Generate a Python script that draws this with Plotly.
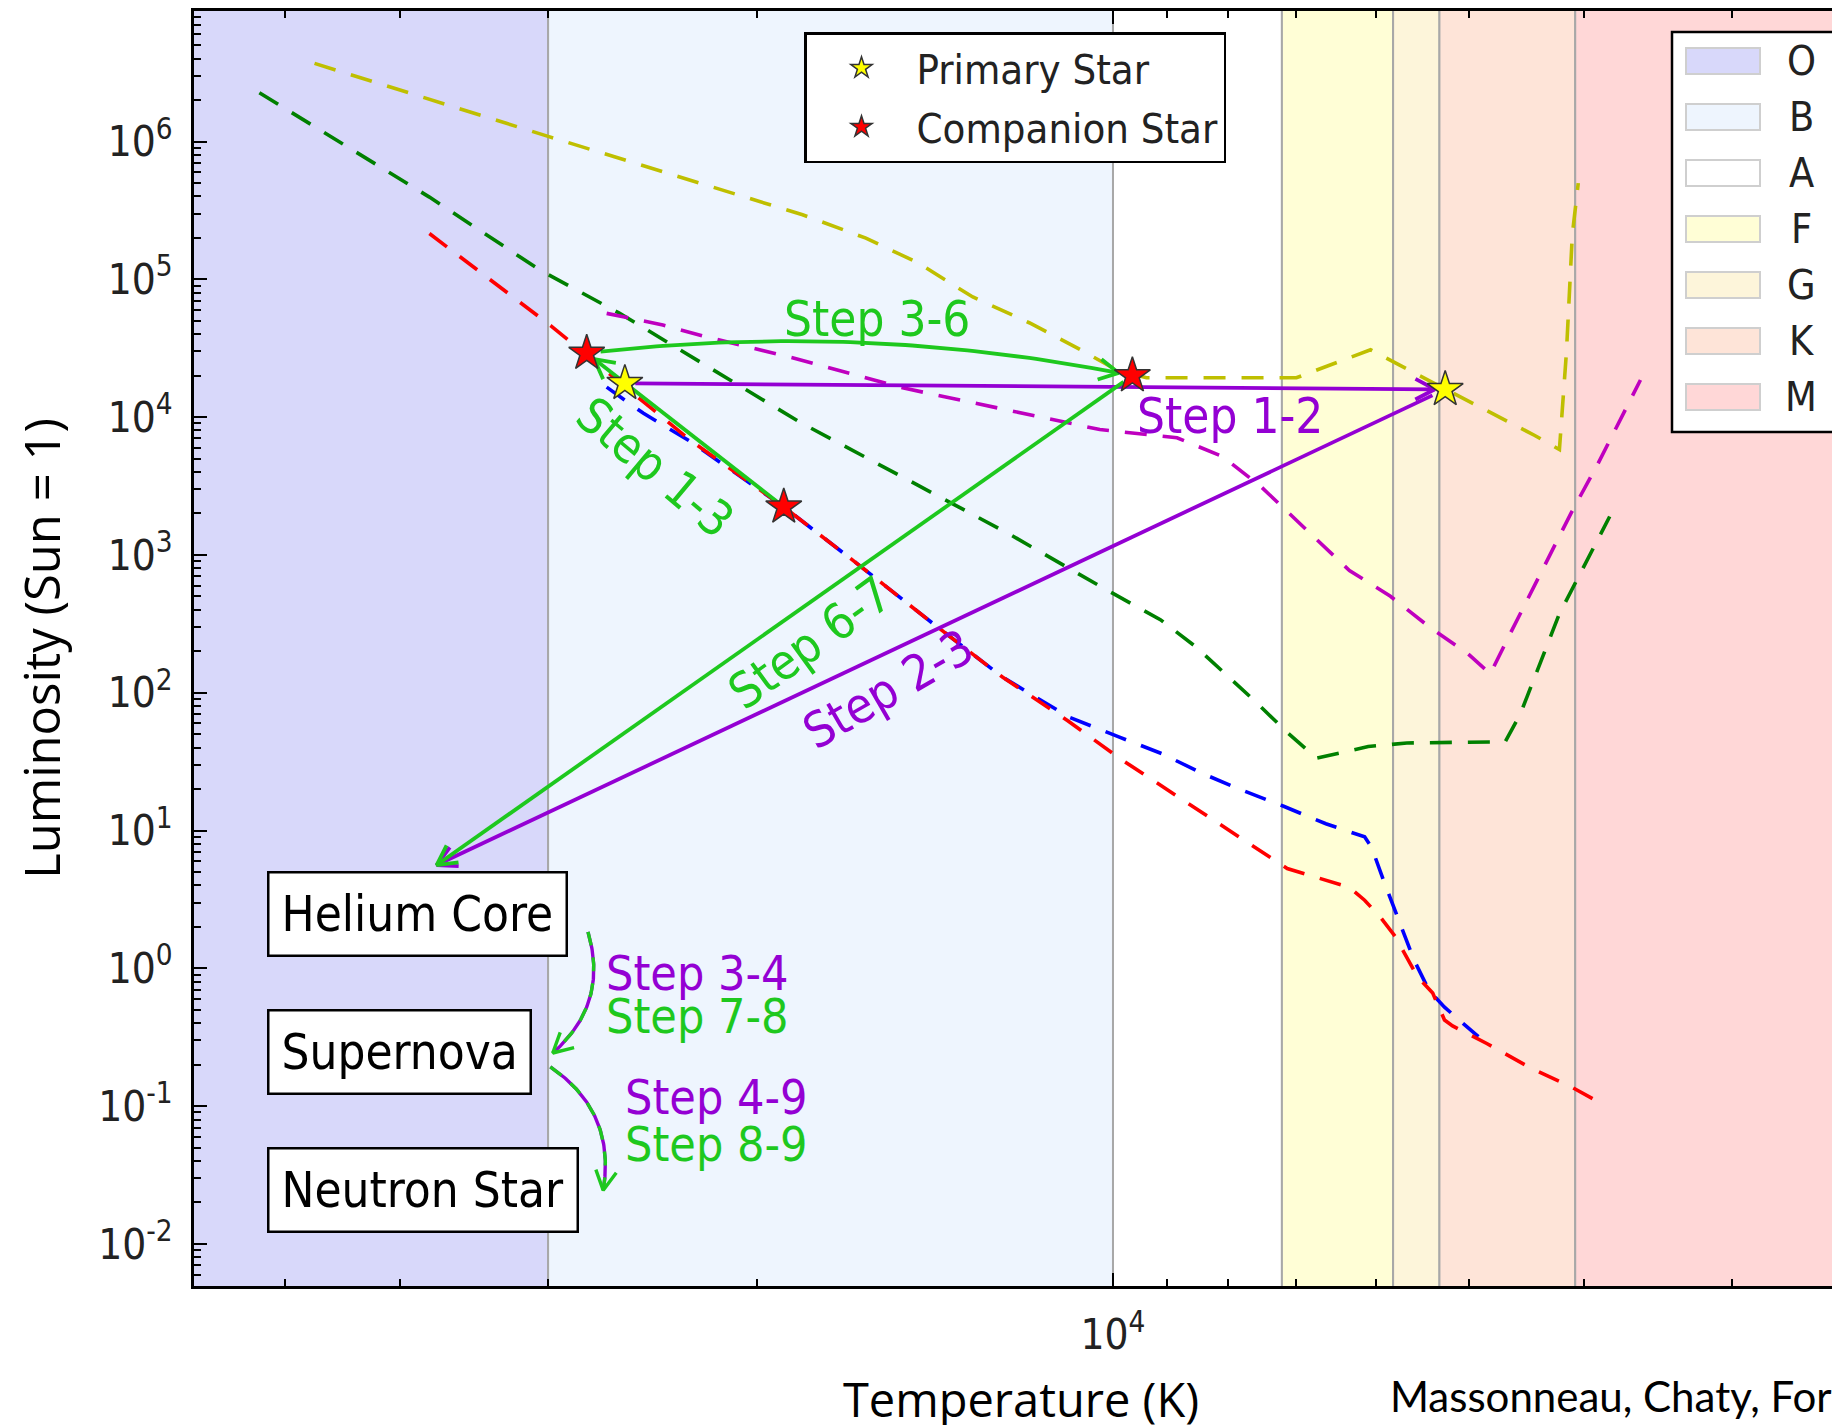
import math
import numpy as np
import plotly.graph_objects as go

# spectral classes: temperature edges in K (hot -> cool), fill colours
spec_classes = ["O", "B", "A", "F", "G", "K", "M"]
spec_edges = [80000, 30000, 10000, 7200, 5800, 5300, 4070, 1500]
spec_colors = ["#d8d8fa", "#eef5fe", "#ffffff", "#fffed6", "#fdf5da", "#fee4d8", "#ffd7d7"]

# evolutionary tracks (temperature K, luminosity Lsun)
yellow_T = [47250, 30000, 18290, 16170, 14620, 13135, 11770, 10650, 9940, 9370, 7000, 6060, 5250, 4403, 4197, 4140, 4093, 4046]
yellow_L = [3.69e6, 1.09e6, 2.94e5, 1.99e5, 1.32e5, 7.44e4, 4.84e4, 3.08e4, 2.21e4, 1.93e4, 1.93e4, 3.08e4, 1.61e4, 7360, 5820, 2.96e4, 2.11e5, 4.99e5]

green_T = [52600, 37790, 30490, 26100, 18370, 14690, 12240, 10190, 9120, 8516, 7613, 7110, 6731, 6087, 5647, 4663, 4527, 4198, 3806]
green_L = [2.26e6, 3.95e5, 1.17e5, 5.66e4, 9150, 3300, 1420, 575, 339, 216, 89.3, 50.6, 33.5, 40.7, 43.2, 44.1, 70.5, 373, 1900]

magenta_T = [26770, 24000, 22050, 18620, 15100, 12350, 10260, 8830, 8078, 7494, 6855, 6314, 5830, 5407, 5015, 4802, 4619, 4382, 4102, 3893, 3585]
magenta_L = [5.66e4, 4.66e4, 3.82e4, 2.69e4, 1.64e4, 1.13e4, 8120, 7080, 5170, 3110, 1500, 771, 501, 301, 192, 137, 268, 661, 2020, 4610, 1.86e4]

red_T = [37790, 29800, 22760, 18970, 16460, 14200, 12400, 10920, 9876, 8573, 7390, 7126, 6314, 6130, 5950, 5775, 5532, 5370, 5248, 5166, 4834, 4453, 4102, 3839]
red_L = [2.15e5, 4.56e4, 6810, 2230, 869, 319, 130, 62.7, 33.5, 15.0, 6.57, 5.30, 3.87, 3.12, 2.37, 1.70, 0.871, 0.662, 0.422, 0.382, 0.285, 0.192, 0.138, 0.1007]

blue_T = [26770, 24940, 22760, 18970, 16460, 14200, 12400, 10890, 9876, 9098, 8401, 7790, 7176, 6610, 6130, 6047, 5909, 5737, 5569, 5407, 5248, 5060, 4913]
blue_L = [1.65e4, 1.07e4, 6680, 2230, 869, 319, 130, 66.5, 47.6, 36.2, 25.9, 19.7, 15.0, 11.2, 9.0, 7.55, 4.35, 2.23, 1.15, 0.689, 0.523, 0.397, 0.32]

# stars: positions at successive steps
primary_T = [25840, 5241]
primary_L = [1.76e4, 1.59e4]
companion_T = [27830, 9630, 18970]
companion_L = [2.91e4, 2.00e4, 2.23e3]

# point where both stars end as a helium core
helium_T, helium_L = 37260, 5.62

# end-state boxes (left edge temperature, centre luminosity)
box_labels = ["Helium Core", "Supernova", "Neutron Star"]
box_T = [51800, 51800, 51800]
box_L = [2.47, 0.249, 0.0246]

# curved transitions between boxes (start, end)
helium_to_sn = [(27760, 1.84), (29730, 0.243)]
sn_to_ns = [(29870, 0.193), (26950, 0.0245)]

step_labels = ["Step 3-6", "Step 1-2", "Step 1-3", "Step 6-7", "Step 2-3"]
step_T = [15810, 7970, 24380, 18040, 15480]
step_L = [5.11e4, 1.01e4, 4330, 229, 106]
step_angle = [0, 0, 40, -36, -30]

side_labels = ["Step 3-4", "Step 7-8", "Step 4-9", "Step 8-9"]
side_T = [26900, 26900, 25930, 25930]
side_L = [0.925, 0.448, 0.1156, 0.0528]

X_RANGE = [4.7762, 3.3792]
Y_RANGE = [-2.305, 6.947]
W, H = 1840, 1425
ML, MR, MT, MB = 186, 0, 3, 147   # page body adds 8px on left/top

GREEN = "#1ec81e"
PURPLE = "#9400d3"
COND = "DejaVu Sans Condensed, DejaVu Sans"
TITLE_FONT = "Open Sans, sans-serif"

plot_w = W - ML - MR
plot_h = H - MT - MB
sx = plot_w / (X_RANGE[0] - X_RANGE[1])
sy = plot_h / (Y_RANGE[1] - Y_RANGE[0])


def to_px(T, L):
    return (X_RANGE[0] - math.log10(T)) * sx, (Y_RANGE[1] - math.log10(L)) * sy


def from_px(u, v):
    return 10 ** (X_RANGE[0] - u / sx), 10 ** (Y_RANGE[1] - v / sy)


def arrow(p0, p1, color, rad=0.0, shrinkA=0, shrinkB=0, dash=None, under=None, width=3.8,
          head_len=22, head_ang=28):
    # quadratic path in screen space (like an arc3 connection), open "->" head
    u0, v0 = to_px(*p0)
    u1, v1 = to_px(*p1)
    dx, dy = u1 - u0, v1 - v0
    cu, cv = (u0 + u1) / 2 + rad * dy, (v0 + v1) / 2 - rad * dx
    t = np.linspace(0, 1, 80)
    uu = (1 - t) ** 2 * u0 + 2 * t * (1 - t) * cu + t ** 2 * u1
    vv = (1 - t) ** 2 * v0 + 2 * t * (1 - t) * cv + t ** 2 * v1
    seg = np.hypot(np.diff(uu), np.diff(vv))
    s = np.concatenate([[0], np.cumsum(seg)])
    keep = (s >= shrinkA) & (s <= s[-1] - shrinkB)
    uu, vv = uu[keep], vv[keep]
    pts = [from_px(a, b) for a, b in zip(uu, vv)]
    traces = []
    if under:
        traces.append(go.Scatter(x=[p[0] for p in pts], y=[p[1] for p in pts], mode="lines",
                                 line=dict(color=under, width=width), showlegend=False, hoverinfo="skip"))
    traces.append(go.Scatter(x=[p[0] for p in pts], y=[p[1] for p in pts], mode="lines",
                             line=dict(color=color, width=width, dash=dash or "solid"),
                             showlegend=False, hoverinfo="skip"))
    bu, bv = uu[-4] - uu[-1], vv[-4] - vv[-1]
    n = math.hypot(bu, bv)
    bu, bv = bu / n, bv / n
    head = []
    for sgn in (1, -1):
        a = math.radians(head_ang) * sgn
        ru = bu * math.cos(a) - bv * math.sin(a)
        rv = bu * math.sin(a) + bv * math.cos(a)
        head.append(from_px(uu[-1] + ru * head_len, vv[-1] + rv * head_len))
    head.insert(1, from_px(uu[-1], vv[-1]))
    traces.append(go.Scatter(x=[p[0] for p in head], y=[p[1] for p in head], mode="lines",
                             line=dict(color=color, width=width), showlegend=False, hoverinfo="skip"))
    return traces


fig = go.Figure()

# spectral class bands
ylo, yhi = 1e-4, 1e8
for name, t0, t1, col in zip(spec_classes, spec_edges[:-1], spec_edges[1:], spec_colors):
    fig.add_trace(go.Scatter(
        x=[t0, t0, t1, t1, t0], y=[ylo, yhi, yhi, ylo, ylo], mode="lines", fill="toself",
        fillcolor=col, line=dict(color="#a8a8a8", width=2), name=name,
        showlegend=False, hoverinfo="skip"))

# tracks
for T, L, col in [(yellow_T, yellow_L, "#bfbf00"), (green_T, green_L, "#008000"),
                  (magenta_T, magenta_L, "#bf00bf"), (blue_T, blue_L, "#0000ff"),
                  (red_T, red_L, "#ff0000")]:
    fig.add_trace(go.Scatter(x=T, y=L, mode="lines", line=dict(color=col, width=3.6, dash="22px,16px"),
                             showlegend=False, hoverinfo="skip"))

P = list(zip(primary_T, primary_L))
C = list(zip(companion_T, companion_L))
He = (helium_T, helium_L)
for p0, p1, col, rad, sa, sb in [
    (P[0], P[1], PURPLE, 0, 10, 8),
    (P[1], He, PURPLE, 0, 4, 0),
    (C[2], C[0], GREEN, 0, 6, 8),
    (C[0], C[1], GREEN, 0.08, 10, 10),
    (C[1], He, GREEN, 0, 4, 0),
]:
    for tr in arrow(p0, p1, col, rad=rad, shrinkA=sa, shrinkB=sb):
        fig.add_trace(tr)

for (p0, p1) in [helium_to_sn, sn_to_ns]:
    for tr in arrow(p0, p1, GREEN, rad=0.32, dash="14px,12px", under=PURPLE, width=3.4):
        fig.add_trace(tr)

# stars
fig.add_trace(go.Scatter(x=primary_T, y=primary_L, mode="markers", name="Primary Star", legendgroup="p",
                         marker=dict(symbol="star", size=27, color="#ffff00", line=dict(color="#333", width=1.5))))
fig.add_trace(go.Scatter(x=companion_T, y=companion_L, mode="markers", name="Companion Star", legendgroup="c",
                         marker=dict(symbol="star", size=27, color="#ff0000", line=dict(color="#333", width=1.5))))


def px_to_paper(px, py):
    # page pixel -> paper coordinates of the plot area
    return (px - 8 - ML) / plot_w, (H - MB + 8 - py) / plot_h


ann = []
for txt, T, L in zip(box_labels, box_T, box_L):
    ann.append(dict(x=math.log10(T), y=math.log10(L), xref="x", yref="y",
                    text=txt, showarrow=False,
                    xanchor="left", yanchor="middle", bgcolor="white", bordercolor="black",
                    borderwidth=2.5, borderpad=12, font=dict(family=COND, size=49, color="black")))
step_cols = [GREEN, PURPLE, GREEN, GREEN, PURPLE]
for txt, T, L, a, c in zip(step_labels, step_T, step_L, step_angle, step_cols):
    ann.append(dict(x=math.log10(T), y=math.log10(L), xref="x", yref="y", text=txt, showarrow=False,
                    textangle=a, font=dict(family=COND, size=49, color=c)))
for txt, T, L, c in zip(side_labels, side_T, side_L, [PURPLE, GREEN, PURPLE, GREEN]):
    ann.append(dict(x=math.log10(T), y=math.log10(L), xref="x", yref="y", text=txt, showarrow=False,
                    xanchor="left", yanchor="middle", font=dict(family=COND, size=48, color=c)))
cx, cy = px_to_paper(1388, 1396)
ann.append(dict(x=cx, y=cy, xref="paper", yref="paper", text="Massonneau, Chaty, For",
                showarrow=False, xanchor="left", yanchor="middle",
                font=dict(family="Lato, sans-serif", size=42, color="black")))

# spectral-class legend box (drawn by hand so swatches are wide rectangles)
shapes = []
bx0, by0 = px_to_paper(1672, 432)
bx1, by1 = px_to_paper(1860, 32)
shapes.append(dict(type="rect", xref="paper", yref="paper", x0=bx0, x1=bx1, y0=by0, y1=by1,
                   fillcolor="white", line=dict(color="black", width=2.5), layer="above"))
for i, (name, col) in enumerate(zip(spec_classes, spec_colors)):
    cy_px = 61 + i * 56
    sx0, sy0 = px_to_paper(1686, cy_px + 13)
    sx1, sy1 = px_to_paper(1760, cy_px - 13)
    shapes.append(dict(type="rect", xref="paper", yref="paper", x0=sx0, x1=sx1, y0=sy0, y1=sy1,
                       fillcolor=col, line=dict(color="#cfcfcf", width=2), layer="above"))
    lx, ly = px_to_paper(1801, cy_px)
    ann.append(dict(x=lx, y=ly, xref="paper", yref="paper", text=name, showarrow=False,
                    xanchor="center", yanchor="middle",
                    font=dict(family=COND, size=41, color="#222")))

y_major = list(range(-2, 7))
y_text = ["10<sup>%d</sup>" % k for k in y_major]
y_minor = [m * 10 ** k for k in range(-3, 7) for m in range(2, 10)]
x_minor = [3000, 4000, 5000, 6000, 7000, 8000, 9000, 20000, 30000, 40000, 50000]

axis_common = dict(showline=True, linecolor="black", linewidth=3, mirror="ticks", ticks="inside",
                   tickcolor="black", tickwidth=2, ticklen=13, showgrid=False, zeroline=False,
                   tickfont=dict(family=COND, size=42, color="#222"), automargin=False)

fig.update_layout(
    width=W, height=H, margin=dict(l=ML, r=MR, t=MT, b=MB),
    plot_bgcolor="white", paper_bgcolor="white",
    xaxis=dict(type="log", range=X_RANGE, tickvals=[10000], ticktext=["10<sup>4</sup>"],
               minor=dict(tickvals=x_minor, ticks="inside", ticklen=7, tickcolor="black", tickwidth=2),
               title=dict(text="Temperature (K)", font=dict(family=TITLE_FONT, size=47, color="black"), standoff=26),
               ticklabelstandoff=10, **axis_common),
    yaxis=dict(type="log", range=Y_RANGE, tickvals=[10 ** k for k in y_major], ticktext=y_text,
               minor=dict(tickvals=y_minor, ticks="inside", ticklen=7, tickcolor="black", tickwidth=2),
               title=dict(text="Luminosity (Sun = 1)", font=dict(family=TITLE_FONT, size=49, color="black"), standoff=26),
               ticklabelstandoff=10, **axis_common),
    legend=dict(x=px_to_paper(804, 0)[0], y=px_to_paper(0, 32)[1], xanchor="left", yanchor="top",
                bgcolor="white", bordercolor="black", borderwidth=2.5,
                font=dict(family=COND, size=41.5, color="#222"), itemwidth=100, tracegroupgap=2),
    annotations=ann,
    shapes=shapes,
)

fig.write_html("out.html")
